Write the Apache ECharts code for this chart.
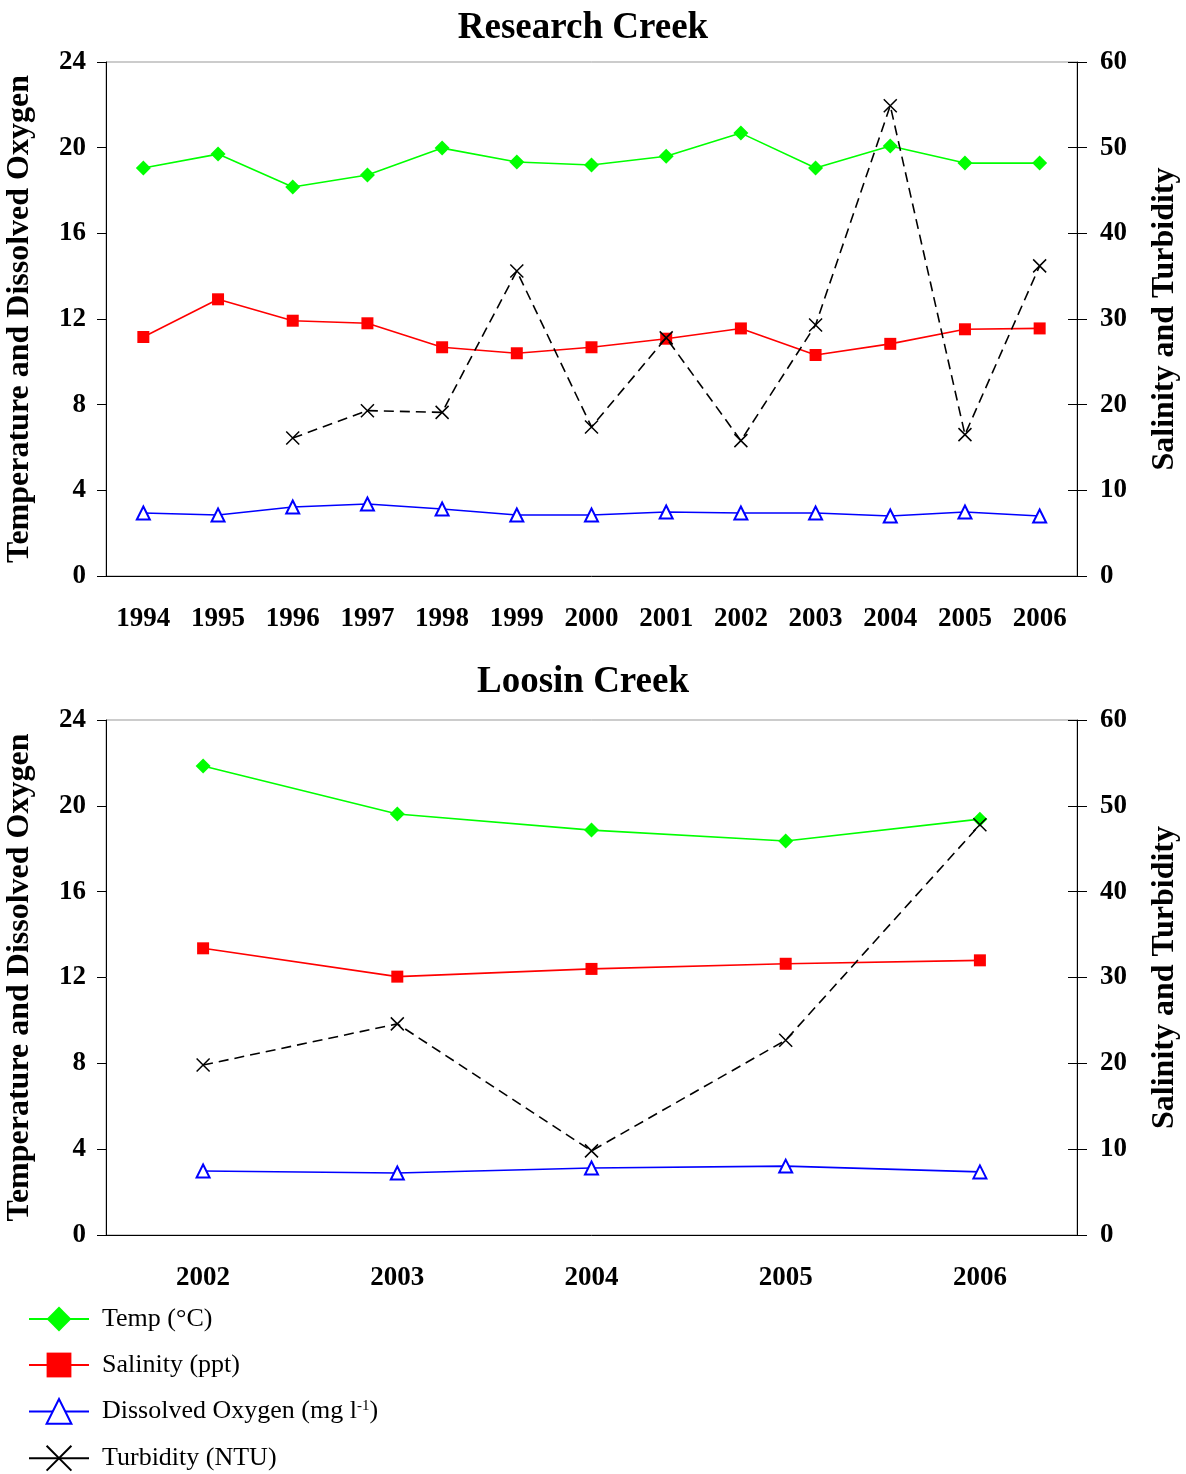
<!DOCTYPE html>
<html><head><meta charset="utf-8">
<script src="https://cdn.jsdelivr.net/npm/echarts@6/dist/echarts.min.js"></script>
<style>html,body{margin:0;padding:0;background:#fff}#c{width:1186px;height:1474px}</style>
</head><body><div id="c"></div>
<script>
// ---- data ----
const yearsA = ['1994','1995','1996','1997','1998','1999','2000','2001','2002','2003','2004','2005','2006'];
const tempA = [19.05,19.7,18.16,18.72,19.98,19.33,19.19,19.6,20.68,19.05,20.08,19.28,19.28];
const salA  = [27.9,32.3,29.8,29.5,26.7,26.0,26.7,27.7,28.9,25.8,27.1,28.8,28.9];
const doA   = [2.94,2.85,3.22,3.36,3.13,2.85,2.85,2.99,2.94,2.94,2.8,2.99,2.8];
const turbA = [null,null,16.1,19.3,19.1,35.6,17.4,27.8,15.8,29.3,54.9,16.5,36.2];

const yearsB = ['2002','2003','2004','2005','2006'];
const tempB = [21.86,19.62,18.87,18.36,19.38];
const salB  = [33.4,30.1,31.0,31.6,32.0];
const doB   = [2.98,2.89,3.12,3.21,2.94];
const turbB = [19.8,24.6,9.8,22.7,47.8];

const titles = ['Research Creek','Loosin Creek'];
const leftName = 'Temperature and Dissolved Oxygen';
const rightName = 'Salinity and Turbidity';
const names = ['Temp (°C)','Salinity (ppt)','Dissolved Oxygen (mg l-1)','Turbidity (NTU)'];

// ---- styles ----
const serif = '"Liberation Serif","DejaVu Serif",serif';
const xSym = 'path://M0,0L10,10M10,0L0,10';
const grids = [
  {left:106, right:109, top:62, height:514, show:true, borderColor:'#999', borderWidth:1, containLabel:false, outerBoundsMode:'none'},
  {left:106, right:109, top:720, height:515, show:true, borderColor:'#999', borderWidth:1, containLabel:false, outerBoundsMode:'none'}
];
const tickLbl = {fontFamily:serif, fontWeight:'bold', fontSize:27, color:'#000'};

const xAxes = [yearsA, yearsB].map((cats,i)=>({
  type:'category', gridIndex:i, data:cats, boundaryGap:true,
  axisLine:{lineStyle:{color:'#000',width:1}},
  axisTick:{length:8, lineStyle:{color:'#000'}},
  axisLabel:Object.assign({margin:30, interval:0}, tickLbl)
}));

const yAxes = [];
[0,1].forEach(i=>{
  yAxes.push({type:'value', gridIndex:i, position:'left', min:0, max:24, interval:4,
    name:leftName, nameLocation:'middle', nameGap:70, nameRotate:90,
    nameTextStyle:{fontFamily:serif, fontWeight:'bold', fontSize:32, color:'#000'},
    axisLine:{show:true, lineStyle:{color:'#000'}},
    axisTick:{show:true, length:9, lineStyle:{color:'#000'}},
    splitLine:{show:false},
    axisLabel:Object.assign({margin:20}, tickLbl)});
  yAxes.push({type:'value', gridIndex:i, position:'right', min:0, max:60, interval:10,
    name:rightName, nameLocation:'middle', nameGap:72, nameRotate:90,
    nameTextStyle:{fontFamily:serif, fontWeight:'bold', fontSize:32, color:'#000'},
    axisLine:{show:true, lineStyle:{color:'#000'}},
    axisTick:{show:true, length:10, lineStyle:{color:'#000'}},
    splitLine:{show:false},
    axisLabel:Object.assign({margin:23}, tickLbl)});
  // inner half of crossing ticks on right axis
  yAxes.push({type:'value', gridIndex:i, position:'right', min:0, max:60, interval:10,
    axisLine:{show:false}, axisLabel:{show:false}, splitLine:{show:false},
    axisTick:{show:true, inside:true, length:9, lineStyle:{color:'#000'}}});
});

function mk(name, data, gi, yi, kind){
  const base = {name, type:'line', data, xAxisIndex:gi, yAxisIndex:yi, connectNulls:false,
    animation:false, z: kind==='turb'?5:3};
  if(kind==='temp') return Object.assign(base,{symbol:'diamond', symbolSize:15,
    itemStyle:{color:'#00ff00'}, lineStyle:{color:'#00ff00', width:1.6}});
  if(kind==='sal') return Object.assign(base,{symbol:'rect', symbolSize:12,
    itemStyle:{color:'#ff0000'}, lineStyle:{color:'#ff0000', width:1.6}});
  if(kind==='do') return Object.assign(base,{symbol:'emptyTriangle', symbolSize:13,
    itemStyle:{color:'#0000ff', borderColor:'#0000ff', borderWidth:1.6}, lineStyle:{color:'#0000ff', width:1.6}});
  return Object.assign(base,{symbol:xSym, symbolSize:13,
    itemStyle:{color:'#000', borderColor:'#000', borderWidth:1.5},
    lineStyle:{color:'#000', width:1.6, type:[10,6]}});
}

const series = [
  mk(names[0], tempA, 0, 0, 'temp'),
  mk(names[1], salA, 0, 1, 'sal'),
  mk(names[2], doA, 0, 0, 'do'),
  mk(names[3], turbA, 0, 1, 'turb'),
  mk(names[0], tempB, 1, 3, 'temp'),
  mk(names[1], salB, 1, 4, 'sal'),
  mk(names[2], doB, 1, 3, 'do'),
  mk(names[3], turbB, 1, 4, 'turb')
];

const option = {
  backgroundColor:'#fff',
  animation:false,
  title: titles.map((t,i)=>({text:t, left:578, top: i===0?5:659, textAlign:'center',
    textStyle:{fontFamily:serif, fontWeight:'bold', fontSize:37, color:'#000'}})),
  grid: grids,
  xAxis: xAxes,
  yAxis: yAxes,
  legend: {
    orient:'vertical', left:28, top:1306, padding:0, itemWidth:60, itemHeight:31, itemGap:20,
    data: names.map((n,i)=>i===3?{name:n, lineStyle:{type:'solid', width:2}}:{name:n, lineStyle:{width:2}}),
    selectedMode:false,
    formatter: function(n){
      if(n===names[2]) return '{a|Dissolved Oxygen (mg l}{s|-1}{b|)}';
      return '{a|'+n+'}';
    },
    textStyle:{
      rich:{
        a:{fontFamily:serif, fontSize:26, color:'#000', padding:[0,0,0,8]},
        b:{fontFamily:serif, fontSize:26, color:'#000'},
        s:{fontFamily:serif, fontSize:15, color:'#000', verticalAlign:'top'}
      }
    }
  },
  series
};
const chart = echarts.init(document.getElementById('c'), null, {renderer:'canvas'});
chart.setOption(option);
</script></body></html>
